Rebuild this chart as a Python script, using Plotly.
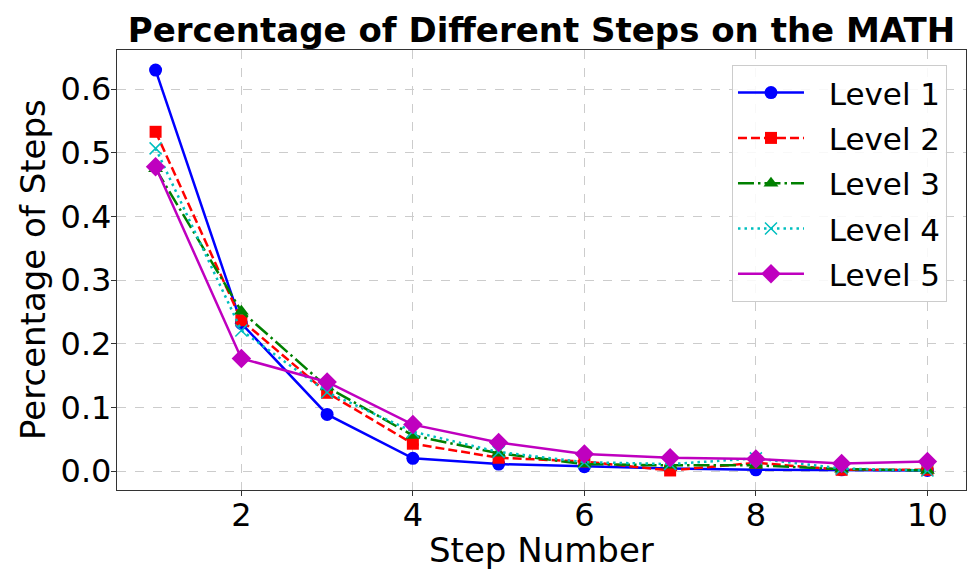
import plotly.graph_objects as go

steps = [1, 2, 3, 4, 5, 6, 7, 8, 9, 10]
level1 = [0.630, 0.232, 0.089, 0.020, 0.011, 0.007, 0.004, 0.002, 0.002, 0.001]
level2 = [0.533, 0.237, 0.123, 0.043, 0.021, 0.015, 0.001, 0.013, 0.002, 0.002]
level3 = [0.475, 0.251, 0.132, 0.056, 0.028, 0.011, 0.009, 0.009, 0.003, 0.001]
level4 = [0.507, 0.221, 0.124, 0.062, 0.030, 0.014, 0.011, 0.020, 0.004, 0.001]
level5 = [0.478, 0.177, 0.140, 0.073, 0.045, 0.027, 0.021, 0.019, 0.012, 0.015]
names = ["Level 1", "Level 2", "Level 3", "Level 4", "Level 5"]
x_ticks = [2, 4, 6, 8, 10]
y_ticks = [0.0, 0.1, 0.2, 0.3, 0.4, 0.5, 0.6]

series = [level1, level2, level3, level4, level5]
colors = ["#0000ff", "#ff0000", "#008000", "#00bfbf", "#bf00bf"]
dashes = ["solid", "9px,4px", "16px,4px,2.5px,4px", "2.5px,4px", "solid"]
symbols = ["circle", "square", "triangle-up", "x-thin", "diamond"]
sizes = [13, 12, 13, 12, 15]

fig = go.Figure()
for i, (name, vals) in enumerate(zip(names, series)):
    fig.add_trace(go.Scatter(
        x=steps, y=vals, name="\u00a0\u00a0" + name, mode="lines+markers",
        legendgroup=name,
        line=dict(color=colors[i], width=2.5, dash=dashes[i]),
        marker=dict(symbol=symbols[i], size=sizes[i], color=colors[i],
                    line=dict(color=colors[i], width=1.5 if symbols[i] == "x-thin" else 0)),
    ))

font_family = "DejaVu Sans"
# page body has an 8px offset; margins compensate so the plot area lands at (117..966, 50..490)
L, T, PW, PH = 109, 42, 849, 440
fig.update_layout(
    width=977, height=586,
    margin=dict(l=L, r=977 - L - PW, t=T, b=586 - T - PH),
    plot_bgcolor="white", paper_bgcolor="white",
    font=dict(family=font_family, color="black", size=31),
    title=dict(text="<b>Percentage of Different Steps on the MATH</b>",
               x=0.5, xref="paper", xanchor="center",
               y=1 - 22 / 586, yref="container", yanchor="middle",
               font=dict(size=34, family=font_family, color="black")),
    legend=dict(x=0.9776, y=0.966, xanchor="right", yanchor="top",
                bgcolor="rgba(255,255,255,0.85)", bordercolor="#cccccc", borderwidth=1,
                font=dict(size=31, family=font_family, color="black"),
                traceorder="grouped", tracegroupgap=2, itemwidth=66),
    showlegend=True,
    annotations=[
        dict(text="Step Number", xref="paper", yref="paper", x=0.5, y=0,
             xanchor="center", yanchor="middle", yshift=-60,
             showarrow=False, font=dict(size=34, family=font_family, color="black")),
        dict(text="Percentage of Steps", xref="paper", yref="paper", x=0, y=0.5,
             xanchor="center", yanchor="middle", xshift=-84, textangle=-90,
             showarrow=False, font=dict(size=34, family=font_family, color="black")),
    ],
)
fig.update_xaxes(
    range=[0.55, 10.45], tickvals=x_ticks, ticktext=[str(v) for v in x_ticks],
    showline=True, linecolor="#333333", linewidth=1.3, mirror=True,
    ticks="outside", ticklen=5, tickcolor="#333333",
    showgrid=True, gridcolor="#cccccc", griddash="dash", gridwidth=1,
    zeroline=False, tickfont=dict(size=32), automargin=False,
    ticklabelstandoff=-9,
)
fig.update_yaxes(
    range=[-0.0297, 0.6615], tickvals=y_ticks, ticktext=[f"{v:.1f}" for v in y_ticks],
    showline=True, linecolor="#333333", linewidth=1.3, mirror=True,
    ticks="outside", ticklen=5, tickcolor="#333333",
    showgrid=True, gridcolor="#cccccc", griddash="dash", gridwidth=1,
    zeroline=False, tickfont=dict(size=32), automargin=False,
    ticklabelstandoff=-7,
)
fig.write_html("out.html")
